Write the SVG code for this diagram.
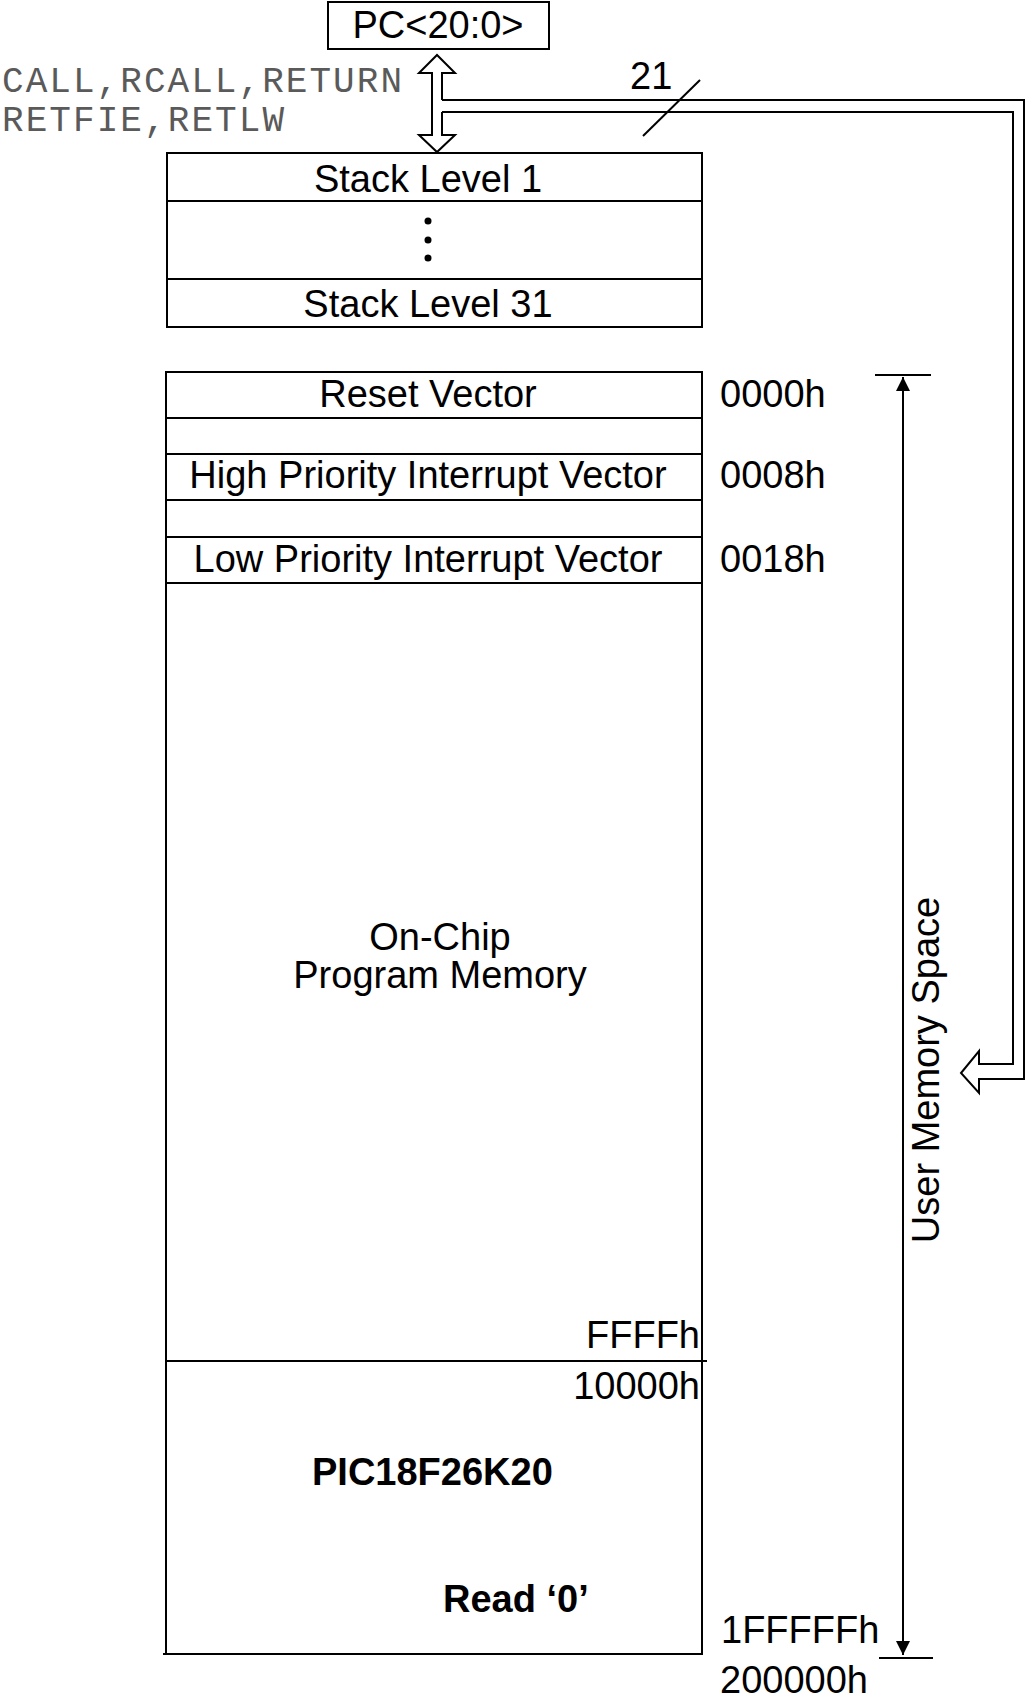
<svg xmlns="http://www.w3.org/2000/svg" width="1027" height="1702" viewBox="0 0 1027 1702">
<style>
.box{fill:#fff;stroke:#000;stroke-width:2}
.ln{fill:none;stroke:#000;stroke-width:2}
.t{font-family:"Liberation Sans",Arial,sans-serif;font-size:38px;fill:#000}
.c{text-anchor:middle}
.r{text-anchor:end}
.b{font-weight:bold}
.m{font-family:"Liberation Mono","Courier New",monospace;font-size:36px;fill:#5a5a5a}
</style>
<defs>
<marker id="ah" viewBox="0 0 14 18" refX="14" refY="9" markerWidth="14" markerHeight="18" markerUnits="userSpaceOnUse" orient="auto">
<path d="M0,2 L14,9 L0,16 Z" fill="#000"/>
</marker>
</defs>
<rect width="1027" height="1702" fill="#fff"/>

<g id="pc">
<rect class="box" x="328" y="2" width="221" height="47"/>
<text class="t c" x="438" y="38">PC&lt;20:0&gt;</text>
</g>

<g id="instr">
<text class="m" x="2" y="92" textLength="400">CALL,RCALL,RETURN</text>
<text class="m" x="2" y="131" textLength="282">RETFIE,RETLW</text>
</g>

<g id="stack">
<rect class="box" x="167" y="153" width="535" height="174"/>
<line class="ln" x1="167" y1="201" x2="702" y2="201"/>
<line class="ln" x1="167" y1="279" x2="702" y2="279"/>
<text class="t c" x="428" y="192">Stack Level 1</text>
<circle cx="428" cy="221" r="3.5" fill="#000"/>
<circle cx="428" cy="240" r="3.5" fill="#000"/>
<circle cx="428" cy="258" r="3.5" fill="#000"/>
<text class="t c" x="428" y="317">Stack Level 31</text>
</g>

<g id="memory">
<rect class="box" x="166" y="372" width="536" height="1282"/>
<line class="ln" x1="166" y1="418" x2="702" y2="418"/>
<line class="ln" x1="166" y1="454" x2="702" y2="454"/>
<line class="ln" x1="166" y1="500" x2="702" y2="500"/>
<line class="ln" x1="166" y1="537" x2="702" y2="537"/>
<line class="ln" x1="166" y1="583" x2="702" y2="583"/>
<line class="ln" x1="166" y1="1361" x2="707" y2="1361"/>
<line class="ln" x1="163" y1="1654" x2="702" y2="1654"/>
<text class="t c" x="428" y="407">Reset Vector</text>
<text class="t c" x="428" y="488">High Priority Interrupt Vector</text>
<text class="t c" x="428" y="572">Low Priority Interrupt Vector</text>
<text class="t c" x="440" y="950">On-Chip</text>
<text class="t c" x="440" y="988">Program Memory</text>
<text class="t r" x="700" y="1348">FFFFh</text>
<text class="t r" x="700" y="1399">10000h</text>
<text class="t b" x="312" y="1485">PIC18F26K20</text>
<text class="t b" x="443" y="1612">Read ‘0’</text>
</g>

<g id="addresses">
<text class="t" x="720" y="407">0000h</text>
<text class="t" x="720" y="488">0008h</text>
<text class="t" x="720" y="572">0018h</text>
<text class="t" x="721" y="1643">1FFFFFh</text>
<text class="t" x="720" y="1693">200000h</text>
</g>

<g id="connectors">
<path class="ln" fill="#fff" d="M442,100 L442,73 L455,73 L437,55 L419,73 L432,73 L432,135 L419,135 L437,152 L455,135 L442,135 L442,112"/>
<path class="ln" d="M442,100 H1024 V1079 H979 V1093 L961,1073 L979,1051 V1064 H1013 V112 H442"/>
<line class="ln" x1="643" y1="136" x2="700" y2="80"/>
<text class="t" x="630" y="89">21</text>
</g>

<g id="dimension">
<line class="ln" x1="875" y1="375" x2="931" y2="375"/>
<line class="ln" x1="879" y1="1658" x2="933" y2="1658"/>
<line class="ln" x1="903" y1="1016" x2="903" y2="377" marker-end="url(#ah)"/>
<line class="ln" x1="903" y1="1016" x2="903" y2="1655" marker-end="url(#ah)"/>
<text class="t c" transform="translate(939,1070) rotate(-90)">User Memory Space</text>
</g>
</svg>
